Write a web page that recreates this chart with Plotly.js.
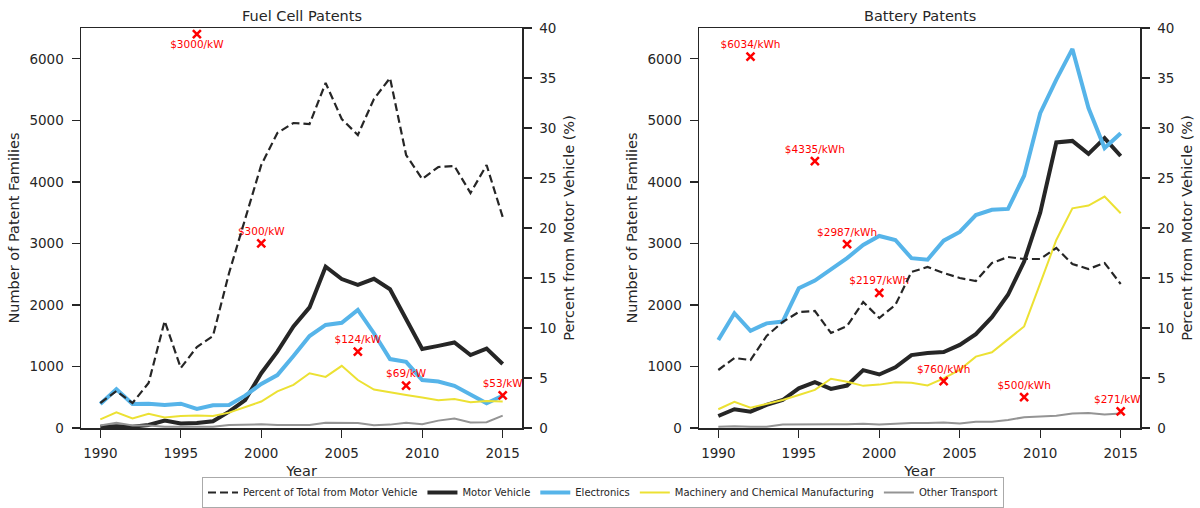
<!DOCTYPE html>
<html>
<head>
<meta charset="utf-8">
<script src="https://cdn.plot.ly/plotly-3.0.1.min.js"></script>
<style>
html,body{margin:0;padding:0;background:#fff;}
#chart{width:1200px;height:508px;}
</style>
</head>
<body>
<div id="chart"></div>
<script>
// ---- data ----
const years = [1990,1991,1992,1993,1994,1995,1996,1997,1998,1999,2000,2001,2002,2003,2004,2005,2006,2007,2008,2009,2010,2011,2012,2013,2014,2015];

// Fuel cell patents
const fuelPct   = [2.5,3.7,2.5,4.5,10.7,6.0,8.1,9.2,15.5,21.0,26.3,29.5,30.5,30.4,34.5,30.9,29.3,32.9,35.0,27.3,24.9,26.1,26.2,23.5,26.3,21.1];
const fuelMotor = [20,30,20,50,120,75,80,110,265,455,890,1240,1650,1960,2620,2420,2325,2425,2255,1780,1285,1335,1390,1185,1290,1040];
const fuelElec  = [390,630,390,395,375,395,310,370,375,525,715,860,1170,1495,1675,1710,1920,1540,1120,1075,780,755,685,535,400,525];
const fuelMach  = [140,255,155,230,170,195,205,195,250,345,430,595,700,890,830,1010,780,625,575,535,495,450,470,420,440,430];
const fuelOther = [40,85,40,40,20,20,20,20,50,60,60,50,45,50,85,80,80,45,55,85,60,120,155,90,95,200];

const fuelCostYears  = [1996,2000,2006,2009,2015];
const fuelCostY      = [6400,3000,1240,690,530];
const fuelCostLabels = ['$3000/kW','$300/kW','$124/kW','$69/kW','$53/kW'];
const fuelCostPos    = ['bottom center','top center','top center','top center','top center'];

// Battery patents
const battPct   = [5.8,7.0,6.8,9.2,10.6,11.6,11.7,9.5,10.2,12.6,11.0,12.3,15.6,16.1,15.5,15.0,14.7,16.5,17.1,16.9,16.9,18.0,16.4,15.9,16.5,14.4];
const battMotor = [195,305,265,375,455,645,745,635,690,940,870,985,1185,1220,1235,1350,1525,1800,2165,2705,3500,4640,4665,4455,4710,4420];
const battElec  = [1430,1865,1580,1700,1730,2270,2395,2580,2760,2975,3120,3055,2760,2735,3045,3185,3460,3545,3560,4100,5115,5660,6160,5200,4550,4790];
const battMach  = [305,425,330,390,455,535,620,800,750,685,705,745,735,690,805,945,1160,1230,1445,1650,2350,3055,3570,3615,3760,3490];
const battOther = [20,30,20,20,55,60,60,60,60,70,55,70,80,80,90,75,100,100,130,175,185,200,235,245,220,235];

const battCostYears  = [1992,1996,1998,2000,2004,2009,2015];
const battCostY      = [6034,4335,2987,2197,760,500,271];
const battCostLabels = ['$6034/kWh','$4335/kWh','$2987/kWh','$2197/kWh','$760/kWh','$500/kWh','$271/kWh'];

const seriesNames = ['Percent of Total from Motor Vehicle','Motor Vehicle','Electronics','Machinery and Chemical Manufacturing','Other Transport'];

// ---- styles ----
const DARK = '#262626';
const styles = {
  pct:   {color: DARK, width: 2.2, dash: '8px,4px'},
  motor: {color: DARK, width: 4},
  elec:  {color: '#56B4E9', width: 4},
  mach:  {color: '#ECE133', width: 2},
  other: {color: '#949494', width: 2}
};

function panel(xa, ya, ya2, pct, motor, elec, mach, other, showLeg) {
  const xs = 'x' + (xa === 1 ? '' : xa);
  const mk = (name, y, st, yax) => ({
    type: 'scatter', mode: 'lines', x: years, y: y, name: name,
    xaxis: xs, yaxis: yax, line: st, showlegend: showLeg, legendgroup: name,
    hoverinfo: 'skip'
  });
  return [
    mk(seriesNames[1], motor, styles.motor, ya),
    mk(seriesNames[2], elec, styles.elec, ya),
    mk(seriesNames[3], mach, styles.mach, ya),
    mk(seriesNames[4], other, styles.other, ya),
    mk(seriesNames[0], pct, styles.pct, ya2)
  ];
}

let traces = [];
traces = traces.concat(panel(1, 'y', 'y2', fuelPct, fuelMotor, fuelElec, fuelMach, fuelOther, true));
traces = traces.concat(panel(2, 'y3', 'y4', battPct, battMotor, battElec, battMach, battOther, false));

const costFont = {family: 'DejaVu Sans, sans-serif', size: 10.5, color: '#ff0000'};
traces.push({
  type: 'scatter', mode: 'markers+text', x: fuelCostYears, y: fuelCostY, text: fuelCostLabels,
  textposition: fuelCostPos, textfont: costFont, xaxis: 'x', yaxis: 'y',
  marker: {symbol: 'x-thin-open', size: 8, color: '#ff0000', line: {color: '#ff0000', width: 2.5}},
  showlegend: false, hoverinfo: 'skip', cliponaxis: false
});
traces.push({
  type: 'scatter', mode: 'markers+text', x: battCostYears, y: battCostY, text: battCostLabels,
  textposition: 'top center', textfont: costFont, xaxis: 'x2', yaxis: 'y3',
  marker: {symbol: 'x-thin-open', size: 8, color: '#ff0000', line: {color: '#ff0000', width: 2.5}},
  showlegend: false, hoverinfo: 'skip', cliponaxis: true
});

// legend order: percent first
const legendOrder = {};
seriesNames.forEach((n, i) => legendOrder[n] = i);
traces.forEach(t => { if (t.legendgroup) t.legendrank = legendOrder[t.legendgroup] + 1; });

const fontFam = 'DejaVu Sans, sans-serif';
const tickFont = {family: fontFam, size: 13.5, color: DARK};
const titleFont = {family: fontFam, size: 14.5, color: DARK};

const yDom = [80/508, 480/508];
function xAxis(dom, anchor) {
  return {
    domain: dom, anchor: anchor, range: [1988.8, 2016.2], tickmode: 'array',
    tickvals: [1990,1995,2000,2005,2010,2015], ticks: 'outside', ticklen: 8, tickwidth: 1.3,
    ticklabelstandoff: 4,
    tickcolor: DARK, showline: true, linecolor: DARK, linewidth: 1.5, mirror: true,
    showgrid: false, zeroline: false, tickfont: tickFont,
    title: {text: 'Year', font: titleFont, standoff: 6}
  };
}
function yLeft(anchor) {
  return {
    domain: yDom, anchor: anchor, range: [0, 6500], tickmode: 'array',
    tickvals: [0,1000,2000,3000,4000,5000,6000], ticks: 'outside', ticklen: 8, tickwidth: 1.3,
    ticklabelstandoff: 5,
    tickcolor: DARK, showline: true, linecolor: DARK, linewidth: 1.5, mirror: true,
    showgrid: false, zeroline: false, tickfont: tickFont,
    title: {text: 'Number of Patent Families', font: titleFont, standoff: 6}
  };
}
function yRight(anchor, overlay) {
  return {
    domain: yDom, anchor: anchor, overlaying: overlay, side: 'right', range: [0, 40],
    tickmode: 'array', tickvals: [0,5,10,15,20,25,30,35,40], ticks: 'outside', ticklen: 8, tickwidth: 1.3,
    ticklabelstandoff: 5,
    tickcolor: DARK, showline: true, linecolor: DARK, linewidth: 1.5,
    showgrid: false, zeroline: false, tickfont: tickFont,
    title: {text: 'Percent from Motor Vehicle (%)', font: titleFont, standoff: 8}
  };
}

const layout = {
  width: 1200, height: 508,
  margin: {l: 0, r: 0, t: 0, b: 0},
  paper_bgcolor: '#ffffff', plot_bgcolor: '#ffffff',
  font: {family: fontFam, color: DARK},
  showlegend: true,
  xaxis: xAxis([81/1200, 522/1200], 'y'),
  yaxis: yLeft('x'),
  yaxis2: yRight('x', 'y'),
  xaxis2: xAxis([699/1200, 1140/1200], 'y3'),
  yaxis3: yLeft('x2'),
  yaxis4: yRight('x2', 'y3'),
  legend: {
    orientation: 'h', x: 0.5025, xanchor: 'center', y: 0, yanchor: 'bottom',
    bordercolor: '#aaaaaa', borderwidth: 1, bgcolor: '#ffffff',
    font: {family: fontFam, size: 10, color: DARK}, traceorder: 'normal',
    itemwidth: 30
  },
  annotations: [
    {text: 'Fuel Cell Patents', xref: 'x domain', yref: 'y domain', x: 0.5, y: 1, yanchor: 'bottom', yshift: 2,
     showarrow: false, font: {family: fontFam, size: 14.5, color: DARK}},
    {text: 'Battery Patents', xref: 'x2 domain', yref: 'y3 domain', x: 0.5, y: 1, yanchor: 'bottom', yshift: 2,
     showarrow: false, font: {family: fontFam, size: 14.5, color: DARK}}
  ]
};

Plotly.newPlot('chart', traces, layout, {displayModeBar: false, staticPlot: true});
</script>
</body>
</html>
